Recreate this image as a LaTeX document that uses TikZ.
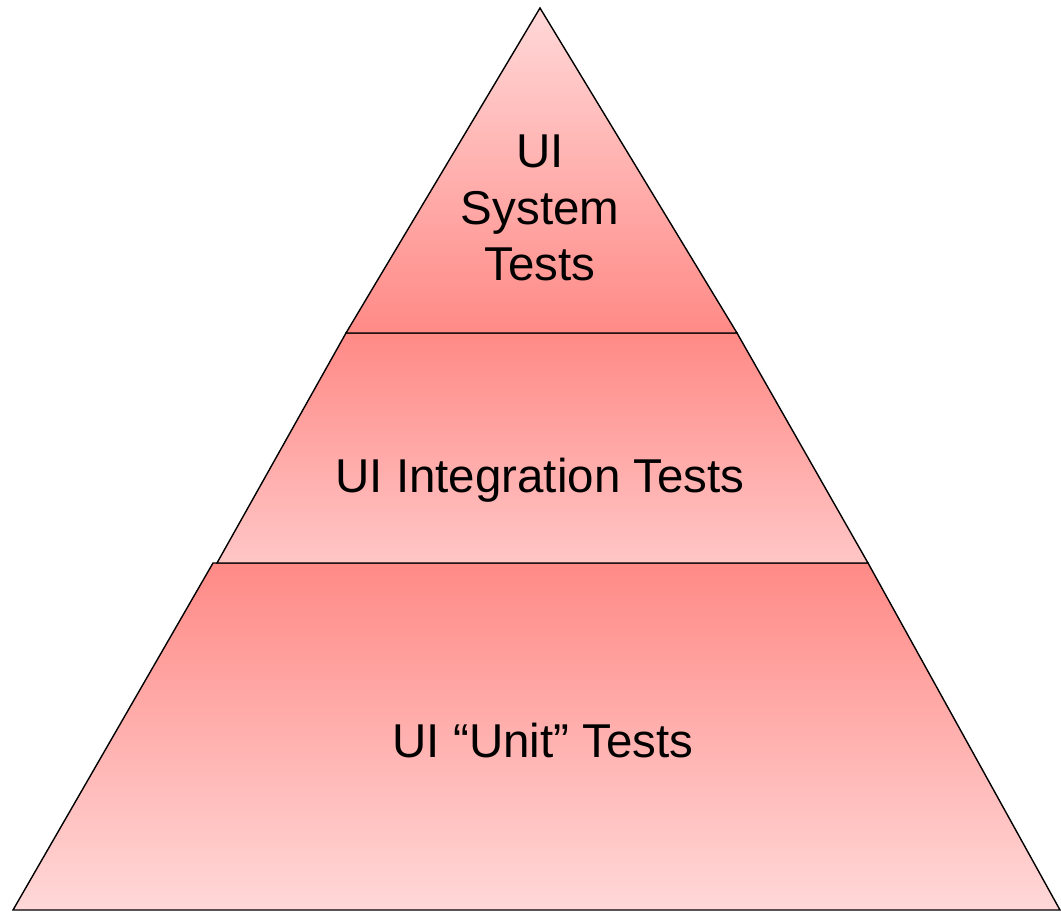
\documentclass[tikz,border=0pt]{standalone}
\usepackage{fontspec}
\setmainfont{Liberation Sans}
\definecolor{pyrdark}{HTML}{FF8A86}
\definecolor{pyrlight}{HTML}{FFD8D8}
\definecolor{pyrmid}{HTML}{FFC6C6}
\tikzset{layer/.style={draw=black,line width=1.4pt,line join=miter},
  lbl/.style={font=\fontsize{47.5}{56.5}\selectfont,align=center,inner sep=0pt}}
\begin{document}
\begin{tikzpicture}[x=1pt,y=-1pt]
        \useasboundingbox(0,0)rectangle(1061,911);
        \shade[layer,top color=pyrdark,bottom color=pyrlight](213,563)--(868,563)--(1060,910)--(13,910)--cycle;
        \shade[layer,top color=pyrdark,bottom color=pyrmid](346,333)--(737,333)--(868,563)--(217,563)--cycle;
        \shade[layer,top color=pyrlight,bottom color=pyrdark](540,8)--(737,333)--(346,333)--cycle;
        \node[lbl](sys)at(540,208){UI\\System\\Tests};
        \node[lbl](integ)at(540,480){UI Integration Tests};
        \node[lbl](unit)at(543,741){UI “Unit” Tests};
    \end{tikzpicture}
\end{document}
